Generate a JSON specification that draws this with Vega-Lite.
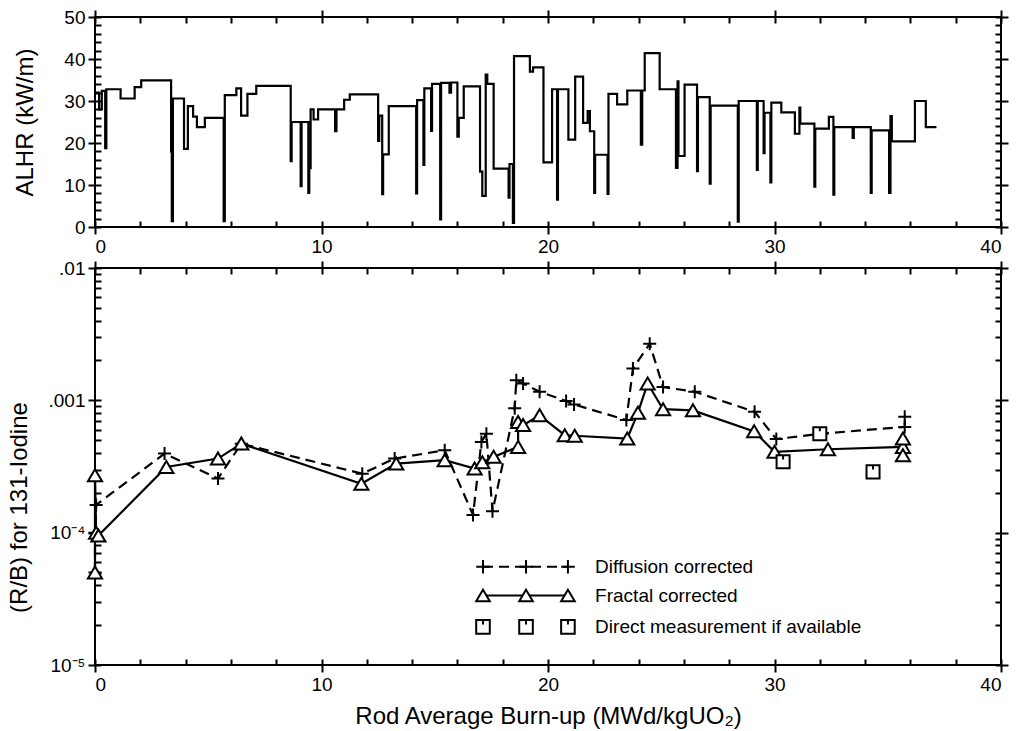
{
  "$schema": "https://vega.github.io/schema/vega-lite/v6.json",
  "background": "white",
  "padding": {"left": 6, "top": 7, "right": 5, "bottom": 0},
  "spacing": 1,
  "config": {
    "view": {"stroke": "black", "strokeWidth": 2},
    "font": "Liberation Sans",
    "axis": {
      "grid": false, "domain": false, "tickColor": "black", "tickWidth": 2,
      "labelColor": "black", "labelFontSize": 19, "labelFont": "Liberation Sans",
      "titleFont": "Liberation Sans", "titleFontSize": 24, "titleFontWeight": "normal",
      "titleColor": "black", "labelPadding": 3
    }
  },
  "datasets": {
    "alhr": [
      {"b":0,"a":32},{"b":0.18,"a":28},{"b":0.3,"a":32.4},{"b":0.45,"a":18.8},{"b":0.5,"a":32.8},
      {"b":1.13,"a":30.6},{"b":1.75,"a":33.3},{"b":2.04,"a":34.9},{"b":3.36,"a":18},{"b":3.39,"a":1.4},
      {"b":3.44,"a":30.6},{"b":3.93,"a":18.6},{"b":4.1,"a":28.8},{"b":4.33,"a":26.3},{"b":4.5,"a":23.8},
      {"b":4.85,"a":26},{"b":5.68,"a":1.4},{"b":5.73,"a":31.4},{"b":6.24,"a":33},{"b":6.45,"a":26.5},
      {"b":6.73,"a":31.7},{"b":7.12,"a":33.6},{"b":8.64,"a":15.7},{"b":8.68,"a":25},{"b":9.08,"a":9.7},
      {"b":9.12,"a":25},{"b":9.42,"a":8.1},{"b":9.46,"a":14},{"b":9.52,"a":28},{"b":9.65,"a":25.6},
      {"b":9.85,"a":28},{"b":10.6,"a":22.8},{"b":10.66,"a":28},{"b":11.0,"a":30.3},{"b":11.25,"a":31.6},
      {"b":12.5,"a":20.5},{"b":12.55,"a":26.5},{"b":12.68,"a":7.8},{"b":12.72,"a":17.3},{"b":12.97,"a":28.8},
      {"b":14.18,"a":8},{"b":14.22,"a":30.2},{"b":14.5,"a":14.8},{"b":14.54,"a":33},{"b":14.84,"a":22.9},
      {"b":14.88,"a":34.1},{"b":15.24,"a":1.8},{"b":15.28,"a":34.3},{"b":15.65,"a":32},{"b":15.72,"a":34.4},
      {"b":16.0,"a":21.5},{"b":16.06,"a":26},{"b":16.28,"a":33.5},{"b":17.0,"a":13.2},{"b":17.1,"a":7.4},
      {"b":17.25,"a":36.3},{"b":17.32,"a":34.1},{"b":17.6,"a":13.9},{"b":18.26,"a":7},{"b":18.3,"a":15},
      {"b":18.45,"a":1},{"b":18.5,"a":40.7},{"b":19.2,"a":37},{"b":19.34,"a":38},{"b":19.8,"a":15.4},
      {"b":20.18,"a":32.8},{"b":20.4,"a":6.5},{"b":20.44,"a":32.8},{"b":20.9,"a":20.8},{"b":21.2,"a":35.8},
      {"b":21.55,"a":24.8},{"b":21.75,"a":27.6},{"b":21.85,"a":22.8},{"b":22.04,"a":8.1},{"b":22.08,"a":17.2},
      {"b":22.63,"a":7.9},{"b":22.67,"a":31.7},{"b":23.05,"a":29.2},{"b":23.5,"a":32.5},{"b":24.1,"a":19.6},
      {"b":24.16,"a":32.5},{"b":24.27,"a":41.4},{"b":24.93,"a":32.8},{"b":25.65,"a":14.1},{"b":25.72,"a":34.7},
      {"b":25.76,"a":16.9},{"b":26.03,"a":33.9},{"b":26.58,"a":13.3},{"b":26.62,"a":30.9},{"b":27.14,"a":10.3},
      {"b":27.18,"a":28.9},{"b":28.38,"a":1.3},{"b":28.42,"a":30},{"b":29.22,"a":13.6},{"b":29.26,"a":30},
      {"b":29.52,"a":17.6},{"b":29.56,"a":27.2},{"b":29.82,"a":10.6},{"b":29.86,"a":29.6},{"b":30.3,"a":27.3},
      {"b":30.9,"a":22.2},{"b":31.1,"a":28.4},{"b":31.14,"a":24.6},{"b":31.76,"a":9.6},{"b":31.8,"a":23.4},
      {"b":32.4,"a":26.2},{"b":32.6,"a":7.7},{"b":32.64,"a":23.8},{"b":33.45,"a":21.2},{"b":33.5,"a":23.8},
      {"b":34.25,"a":8.1},{"b":34.29,"a":23},{"b":35.06,"a":8.1},{"b":35.12,"a":26.4},{"b":35.18,"a":20.4},
      {"b":36.2,"a":30},{"b":36.68,"a":23.8},{"b":37.15,"a":23.8}
    ],
    "frame": [{"b":0,"a":0},{"b":40,"a":50}],
    "diff": [
      {"i":0,"b":0,"r":0.00005},{"i":1,"b":0,"r":0.0001},{"i":2,"b":0.05,"r":0.000162},
      {"i":3,"b":3.07,"r":0.000396},{"i":4,"b":5.43,"r":0.000257},{"i":5,"b":6.46,"r":0.00047},
      {"i":6,"b":11.8,"r":0.000279},{"i":7,"b":13.23,"r":0.000363},{"i":8,"b":15.44,"r":0.00042},
      {"i":9,"b":16.69,"r":0.000136},{"i":10,"b":17.06,"r":0.000485},{"i":11,"b":17.28,"r":0.00056},
      {"i":12,"b":17.55,"r":0.000145},{"i":13,"b":18.53,"r":0.00087},{"i":14,"b":18.6,"r":0.00142},
      {"i":15,"b":18.9,"r":0.00134},{"i":16,"b":19.63,"r":0.00116},{"i":17,"b":20.8,"r":0.00099},
      {"i":18,"b":21.15,"r":0.00093},{"i":19,"b":23.46,"r":0.00071},{"i":20,"b":23.75,"r":0.00174},
      {"i":21,"b":24.49,"r":0.00268},{"i":22,"b":25.08,"r":0.00126},{"i":23,"b":26.48,"r":0.00116},
      {"i":24,"b":29.12,"r":0.00082},{"i":25,"b":30.08,"r":0.00051},{"i":26,"b":32.07,"r":0.00056},
      {"i":27,"b":35.75,"r":0.00063},{"i":28,"b":35.75,"r":0.00075}
    ],
    "frac": [
      {"i":0,"b":0,"r":0.00005},{"i":1,"b":0,"r":0.000272},{"i":2,"b":0.05,"r":0.0001},
      {"i":3,"b":0.15,"r":0.000095},{"i":4,"b":3.15,"r":0.000314},{"i":5,"b":5.43,"r":0.000363},
      {"i":6,"b":6.46,"r":0.000471},{"i":7,"b":11.76,"r":0.000234},{"i":8,"b":13.3,"r":0.000333},
      {"i":9,"b":15.44,"r":0.000353},{"i":10,"b":16.76,"r":0.000305},{"i":11,"b":17.1,"r":0.00034},
      {"i":12,"b":17.6,"r":0.000374},{"i":13,"b":18.68,"r":0.000445},{"i":14,"b":18.68,"r":0.000687},
      {"i":15,"b":18.9,"r":0.00065},{"i":16,"b":19.63,"r":0.000771},{"i":17,"b":20.74,"r":0.000545},
      {"i":18,"b":21.18,"r":0.00054},{"i":19,"b":23.5,"r":0.000514},{"i":20,"b":23.97,"r":0.000807},
      {"i":21,"b":24.4,"r":0.00134},{"i":22,"b":25.08,"r":0.000857},{"i":23,"b":26.4,"r":0.00084},
      {"i":24,"b":29.1,"r":0.000583},{"i":25,"b":30.0,"r":0.000408},{"i":26,"b":32.36,"r":0.000427},
      {"i":27,"b":35.67,"r":0.000445},{"i":28,"b":35.67,"r":0.000514},{"i":29,"b":35.67,"r":0.000385}
    ],
    "direct": [
      {"b":30.38,"r":0.000343},{"b":32.0,"r":0.00056},{"b":34.35,"r":0.000288}
    ],
    "legline": [
      {"s":"Diffusion corrected","b":17.13,"r":0.0000552},{"s":"Diffusion corrected","b":20.88,"r":0.0000552},
      {"s":"Fractal corrected","b":17.13,"r":0.0000335},{"s":"Fractal corrected","b":20.88,"r":0.0000335}
    ],
    "legsym": [
      {"s":"Diffusion corrected","b":17.13,"r":0.0000552},{"s":"Diffusion corrected","b":19.03,"r":0.0000552},{"s":"Diffusion corrected","b":20.88,"r":0.0000552},
      {"s":"Fractal corrected","b":17.13,"r":0.0000335},{"s":"Fractal corrected","b":19.03,"r":0.0000335},{"s":"Fractal corrected","b":20.88,"r":0.0000335},
      {"s":"Direct measurement if available","b":17.13,"r":0.0000194},{"s":"Direct measurement if available","b":19.03,"r":0.0000194},{"s":"Direct measurement if available","b":20.88,"r":0.0000194}
    ],
    "legtext": [
      {"t":"Diffusion corrected","b":22.08,"r":0.0000552},
      {"t":"Fractal corrected","b":22.08,"r":0.0000335},
      {"t":"Direct measurement if available","b":22.08,"r":0.0000194}
    ]
  },
  "vconcat": [
    {
      "width": 906,
      "height": 210,
      "layer": [
        {
          "data": {"name": "alhr"},
          "mark": {"type": "line", "interpolate": "step-after", "color": "black", "strokeWidth": 2.2},
          "encoding": {
            "x": {"field": "b", "type": "quantitative", "scale": {"domain": [0, 40], "nice": false},
                  "axis": {"orient": "bottom", "values": [0, 10, 20, 30, 40], "tickSize": 7, "title": null}},
            "y": {"field": "a", "type": "quantitative", "scale": {"domain": [0, 50], "nice": false},
                  "axis": {"orient": "left", "values": [0, 10, 20, 30, 40, 50], "tickSize": 7, "title": "ALHR (kW/m)", "titleX": -58, "titleBaseline": "bottom"}}
          }
        },
        {
          "data": {"name": "frame"},
          "mark": {"type": "point", "opacity": 0},
          "encoding": {
            "x": {"field": "b", "type": "quantitative",
                  "axis": {"orient": "bottom", "offset": -6, "values": [0,2,4,6,8,10,12,14,16,18,20,22,24,26,28,30,32,34,36,38,40], "tickSize": 6, "labels": false, "title": null}},
            "y": {"field": "a", "type": "quantitative",
                  "axis": {"orient": "left", "offset": -6, "values": [0,2,4,6,8,10,12,14,16,18,20,22,24,26,28,30,32,34,36,38,40,42,44,46,48,50], "tickSize": 6, "labels": false, "title": null}}
          }
        },
        {
          "data": {"name": "frame"},
          "mark": {"type": "point", "opacity": 0},
          "encoding": {
            "x": {"field": "b", "type": "quantitative",
                  "axis": {"orient": "top", "offset": -6, "values": [0,2,4,6,8,10,12,14,16,18,20,22,24,26,28,30,32,34,36,38,40], "tickSize": 6, "labels": false, "title": null}},
            "y": {"field": "a", "type": "quantitative",
                  "axis": {"orient": "right", "offset": -6, "values": [0,2,4,6,8,10,12,14,16,18,20,22,24,26,28,30,32,34,36,38,40,42,44,46,48,50], "tickSize": 6, "labels": false, "title": null}}
          }
        },
        {
          "data": {"name": "frame"},
          "mark": {"type": "point", "opacity": 0},
          "encoding": {
            "x": {"field": "b", "type": "quantitative",
                  "axis": {"orient": "top", "values": [0, 10, 20, 30, 40], "tickSize": 7, "labels": false, "title": null}},
            "y": {"field": "a", "type": "quantitative",
                  "axis": {"orient": "right", "values": [0, 10, 20, 30, 40, 50], "tickSize": 7, "labels": false, "title": null}}
          }
        }
      ],
      "resolve": {"axis": {"x": "independent", "y": "independent"}}
    },
    {
      "width": 906,
      "height": 397,
      "layer": [
        {
          "data": {"name": "diff"},
          "mark": {"type": "line", "color": "black", "strokeWidth": 2.2, "strokeDash": [10, 6]},
          "encoding": {
            "x": {"field": "b", "type": "quantitative", "scale": {"domain": [0, 40], "nice": false},
                  "axis": {"orient": "bottom", "values": [0, 10, 20, 30, 40], "tickSize": 7, "title": "Rod Average Burn-up (MWd/kgUO₂)", "titlePadding": 10}},
            "y": {"field": "r", "type": "quantitative", "scale": {"type": "log", "domain": [0.00001, 0.01], "nice": false},
                  "axis": {"orient": "left", "values": [0.00001, 0.0001, 0.001, 0.01], "tickSize": 7,
                           "labelExpr": "datum.value > 0.005 ? '.01' : datum.value > 0.0005 ? '.001' : datum.value > 0.00005 ? '10⁻⁴' : '10⁻⁵'",
                           "title": "(R/B) for 131-Iodine", "titleX": -64, "titleY": 239, "titleBaseline": "bottom"}},
            "order": {"field": "i", "type": "quantitative"}
          }
        },
        {
          "data": {"name": "frac"},
          "mark": {"type": "line", "color": "black", "strokeWidth": 2.2},
          "encoding": {
            "x": {"field": "b", "type": "quantitative",
                  "axis": {"orient": "bottom", "offset": -6, "values": [0,2,4,6,8,10,12,14,16,18,20,22,24,26,28,30,32,34,36,38,40], "tickSize": 6, "labels": false, "title": null}},
            "y": {"field": "r", "type": "quantitative", "scale": {"type": "log"},
                  "axis": {"orient": "left", "offset": -6, "values": [0.00001,0.00002,0.00003,0.00004,0.00005,0.00006,0.00007,0.00008,0.00009,0.0001,0.0002,0.0003,0.0004,0.0005,0.0006,0.0007,0.0008,0.0009,0.001,0.002,0.003,0.004,0.005,0.006,0.007,0.008,0.009,0.01], "tickSize": 6, "labels": false, "title": null}},
            "order": {"field": "i", "type": "quantitative"}
          }
        },
        {
          "data": {"name": "diff"},
          "mark": {"type": "point", "shape": "M-1,0H1M0,-1V1", "size": 170, "filled": false, "stroke": "black", "strokeWidth": 2, "opacity": 1},
          "encoding": {
            "x": {"field": "b", "type": "quantitative",
                  "axis": {"orient": "top", "offset": -6, "values": [0,2,4,6,8,10,12,14,16,18,20,22,24,26,28,30,32,34,36,38,40], "tickSize": 6, "labels": false, "title": null}},
            "y": {"field": "r", "type": "quantitative", "scale": {"type": "log"},
                  "axis": {"orient": "right", "offset": -6, "values": [0.00001,0.00002,0.00003,0.00004,0.00005,0.00006,0.00007,0.00008,0.00009,0.0001,0.0002,0.0003,0.0004,0.0005,0.0006,0.0007,0.0008,0.0009,0.001,0.002,0.003,0.004,0.005,0.006,0.007,0.008,0.009,0.01], "tickSize": 6, "labels": false, "title": null}}
          }
        },
        {
          "data": {"name": "frac"},
          "mark": {"type": "point", "shape": "M0,-0.85L1,0.85L-1,0.85Z", "size": 200, "filled": true, "fill": "white", "stroke": "black", "strokeWidth": 2, "opacity": 1},
          "encoding": {
            "x": {"field": "b", "type": "quantitative",
                  "axis": {"orient": "top", "values": [0, 10, 20, 30, 40], "tickSize": 7, "labels": false, "title": null}},
            "y": {"field": "r", "type": "quantitative", "scale": {"type": "log"},
                  "axis": {"orient": "right", "values": [0.00001, 0.0001, 0.001, 0.01], "tickSize": 7, "labels": false, "title": null}}
          }
        },
        {
          "data": {"name": "direct"},
          "mark": {"type": "point", "shape": "M-1,-1H1V1H-1ZM0,-1V-0.35", "size": 170, "filled": true, "fill": "white", "stroke": "black", "strokeWidth": 2, "opacity": 1},
          "encoding": {
            "x": {"field": "b", "type": "quantitative", "axis": null},
            "y": {"field": "r", "type": "quantitative", "scale": {"type": "log"}, "axis": null}
          }
        },
        {
          "data": {"name": "legline"},
          "mark": {"type": "line", "color": "black", "strokeWidth": 2},
          "encoding": {
            "x": {"field": "b", "type": "quantitative", "axis": null},
            "y": {"field": "r", "type": "quantitative", "scale": {"type": "log"}, "axis": null},
            "detail": {"field": "s"},
            "strokeDash": {"field": "s", "type": "nominal", "scale": {"domain": ["Diffusion corrected", "Fractal corrected"], "range": [[10, 6], [1, 0]]}, "legend": null}
          }
        },
        {
          "data": {"name": "legsym"},
          "mark": {"type": "point", "size": 185, "filled": true, "fill": "white", "stroke": "black", "strokeWidth": 2, "opacity": 1},
          "encoding": {
            "x": {"field": "b", "type": "quantitative", "axis": null},
            "y": {"field": "r", "type": "quantitative", "scale": {"type": "log"}, "axis": null},
            "shape": {"field": "s", "type": "nominal",
                      "scale": {"domain": ["Diffusion corrected", "Fractal corrected", "Direct measurement if available"],
                                "range": ["M-1,0H1M0,-1V1", "M0,-0.85L1,0.85L-1,0.85Z", "M-1,-1H1V1H-1ZM0,-1V-0.35"]},
                      "legend": null}
          }
        },
        {
          "data": {"name": "legtext"},
          "mark": {"type": "text", "align": "left", "baseline": "middle", "fontSize": 19, "font": "Liberation Sans", "color": "black"},
          "encoding": {
            "x": {"field": "b", "type": "quantitative", "axis": null},
            "y": {"field": "r", "type": "quantitative", "scale": {"type": "log"}, "axis": null},
            "text": {"field": "t"}
          }
        }
      ],
      "resolve": {"axis": {"x": "independent", "y": "independent"}}
    }
  ]
}
